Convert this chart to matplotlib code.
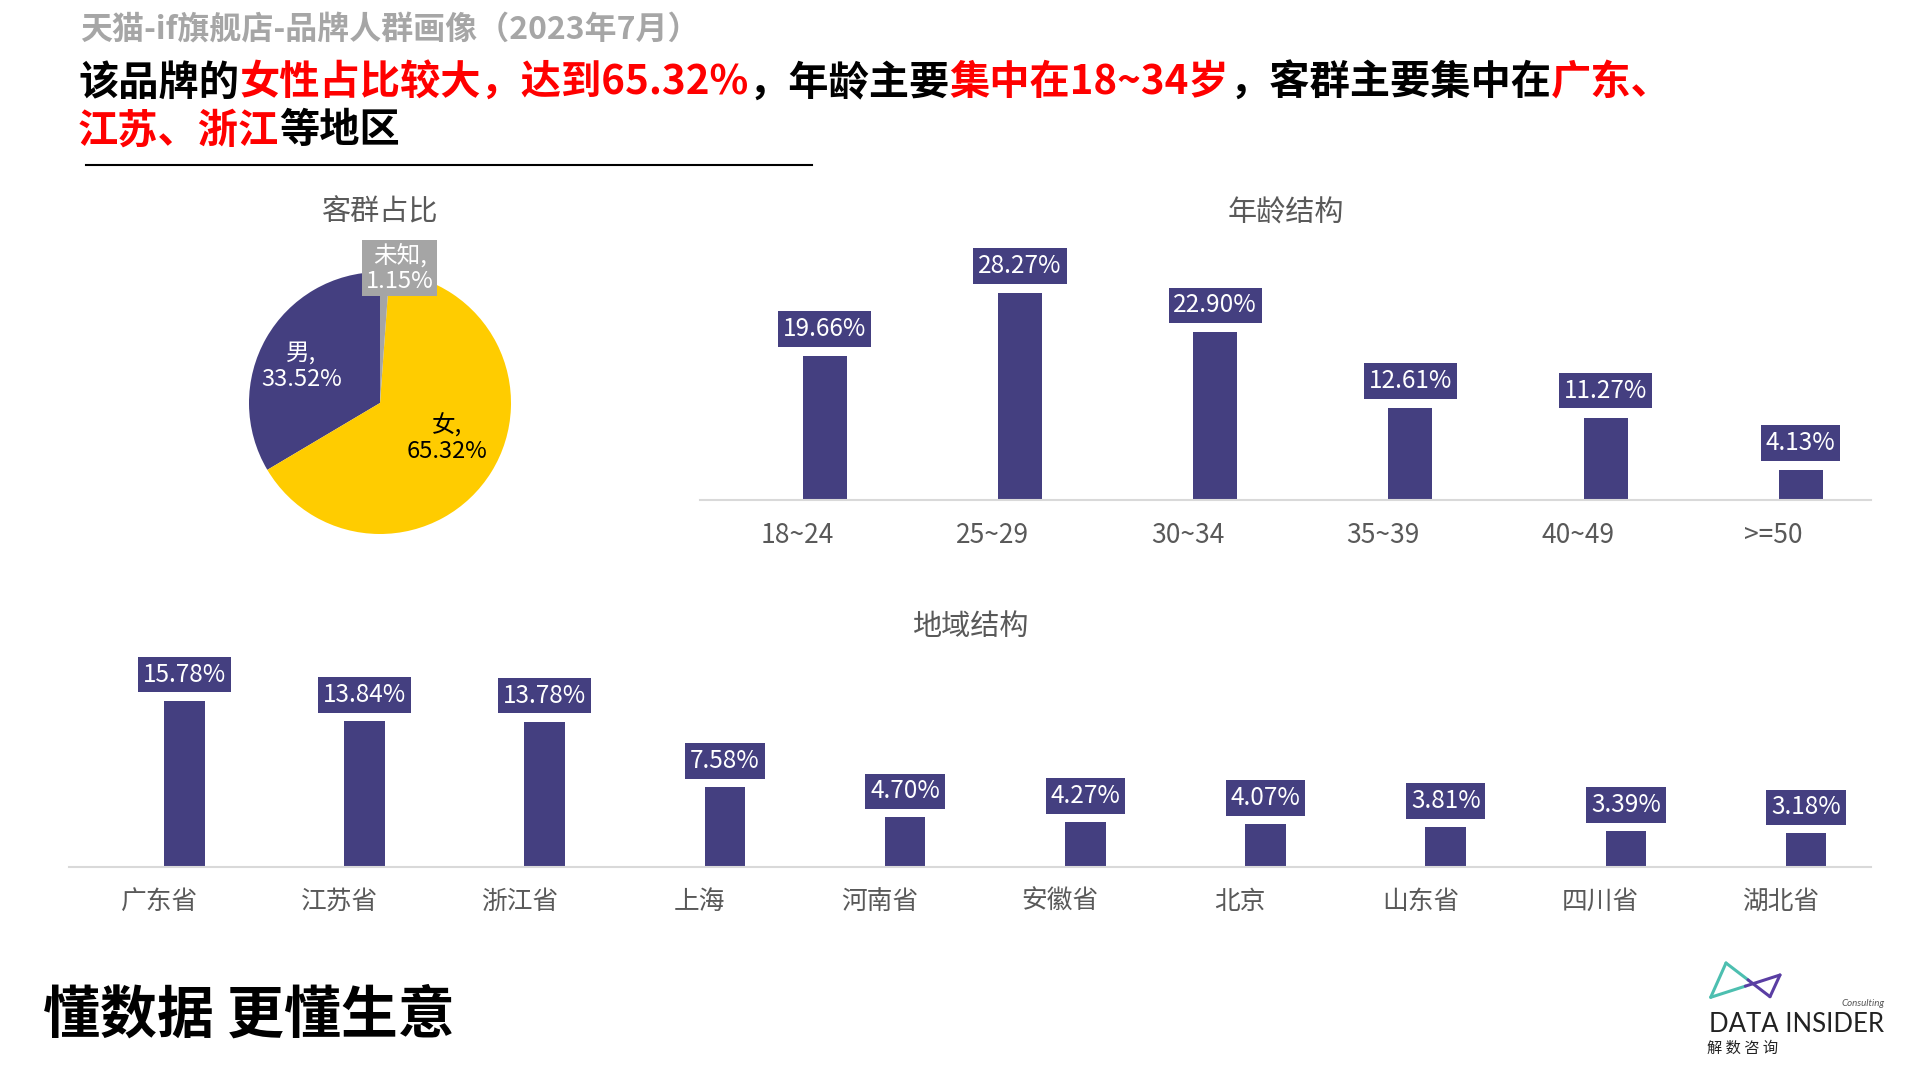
import matplotlib
matplotlib.use("Agg")
import matplotlib.pyplot as plt
from matplotlib.transforms import IdentityTransform

plt.rcParams['font.family'] = ['Noto Sans CJK SC', 'DejaVu Sans']

# ---------------- data ----------------
header_text = "天猫-if旗舰店-品牌人群画像（2023年7月）"
headline_line1 = [("该品牌的", "black"), ("女性占比较大，达到65.32%", "red"), ("，年龄主要", "black"),
                  ("集中在18~34岁", "red"), ("，客群主要集中在", "black"), ("广东、", "red")]
headline_line2 = [("江苏、浙江", "red"), ("等地区", "black")]

gender_labels = ["男", "女", "未知"]
gender_values = [33.52, 65.32, 1.15]

age_labels = ["18~24", "25~29", "30~34", "35~39", "40~49", ">=50"]
age_values = [19.66, 28.27, 22.90, 12.61, 11.27, 4.13]

region_labels = ["广东省", "江苏省", "浙江省", "上海", "河南省", "安徽省", "北京", "山东省", "四川省", "湖北省"]
region_values = [15.78, 13.84, 13.78, 7.58, 4.70, 4.27, 4.07, 3.81, 3.39, 3.18]

slogan = "懂数据 更懂生意"

# ---------------- style ----------------
W, H = 1920, 1080
BAR = "#443F80"
YELLOW = "#FFCC00"
GRAY_SLICE = "#A5A5A5"
TXT_GRAY = "#595959"
AXIS_GRAY = "#D9D9D9"

fig = plt.figure(figsize=(W / 100, H / 100), dpi=100)
fig.patch.set_facecolor("white")


def ax_px(left, top, right, bottom):
    return fig.add_axes([left / W, 1 - bottom / H, (right - left) / W, (bottom - top) / H])


# overlay axes in pixel coords (y down)
ov = fig.add_axes([0, 0, 1, 1], zorder=-1)
ov.set_xlim(0, W)
ov.set_ylim(H, 0)
ov.axis("off")

renderer = fig.canvas.get_renderer()


def rich(x, y, parts, size, weight="bold"):
    cx = x
    for s, c in parts:
        t = fig.text(cx, H - y, s, color=c, fontsize=size, fontweight=weight,
                     transform=IdentityTransform(), ha="left", va="center")
        bb = t.get_window_extent(renderer)
        cx += bb.width
    return cx


# header
fig.text(80 / W, 1 - 31 / H, header_text, color="#A6A6A6", fontsize=23, fontweight="bold",
         ha="left", va="center")
rich(78, 83, headline_line1, 29)
rich(78, 131, headline_line2, 29)
ov.plot([86, 812], [165, 165], color="black", lw=1.5)

# ---------------- pie ----------------
cx, cy, r = 380, 403, 131
pax = ax_px(cx - r, cy - r, cx + r, cy + r)
pax.pie(gender_values, colors=[BAR, YELLOW, GRAY_SLICE], startangle=90, counterclock=True,
        radius=1, wedgeprops=dict(linewidth=0))
pax.set_xlim(-1, 1)
pax.set_ylim(-1, 1)
pax.set_aspect("equal")
pax.axis("off")
pax.text(-0.60, 0.28, f"{gender_labels[0]},\n{gender_values[0]:.2f}%", color="white", fontsize=17,
         ha="center", va="center", linespacing=1.15)
pax.text(0.51, -0.27, f"{gender_labels[1]},\n{gender_values[1]:.2f}%", color="black", fontsize=17,
         ha="center", va="center", linespacing=1.15)
pax.text(0.15, 1.03, f"{gender_labels[2]},\n{gender_values[2]:.2f}%", color="white", fontsize=17,
         ha="center", va="center", linespacing=1.1, clip_on=False,
         bbox=dict(boxstyle="square,pad=0.15", fc=GRAY_SLICE, ec="none"))
fig.text(380 / W, 1 - 212 / H, "客群占比", color=TXT_GRAY, fontsize=21, ha="center", va="center")


# ---------------- bar charts ----------------
def bar_chart(ax, labels, values, ymax, label_off, tick_size):
    xs = list(range(len(labels)))
    ax.bar([x + 0.14 for x in xs], values, width=0.225, color=BAR, zorder=2)
    ax.set_xlim(-0.5, len(labels) - 0.5)
    ax.set_ylim(0, ymax)
    ax.set_xticks(xs)
    ax.set_xticklabels(labels, fontsize=tick_size, color=TXT_GRAY)
    ax.tick_params(axis="x", length=0, pad=16)
    ax.set_yticks([])
    for s in ["top", "right", "left"]:
        ax.spines[s].set_visible(False)
    ax.spines["bottom"].set_color(AXIS_GRAY)
    ax.spines["bottom"].set_linewidth(1.5)
    ax.patch.set_alpha(0)
    for x, v in zip(xs, values):
        ax.annotate(f"{v:.2f}%", xy=(x + 0.14, v), xytext=(0, label_off), textcoords="offset pixels",
                    ha="center", va="center", color="white", fontsize=17.5, annotation_clip=False,
                    bbox=dict(boxstyle="square,pad=0.2", fc=BAR, ec="none"))


aax = ax_px(700, 500 - 7.32 * 35, 1871, 500)
bar_chart(aax, age_labels, age_values, 35, 27, 19)
fig.text(1286 / W, 1 - 214 / H, "年龄结构", color=TXT_GRAY, fontsize=21, ha="center", va="center")

rax = ax_px(69, 867 - 10.55 * 20, 1871, 867)
bar_chart(rax, region_labels, region_values, 20, 26, 18.5)
fig.text(970 / W, 1 - 627 / H, "地域结构", color=TXT_GRAY, fontsize=21, ha="center", va="center")

# ---------------- slogan ----------------
fig.text(43 / W, 1 - 1016 / H, slogan, color="black", fontsize=41, fontweight="bold",
         ha="left", va="center")

# ---------------- logo ----------------
A, B, C, D = (1726, 963), (1710.7, 997.3), (1770, 996.7), (1780, 975)
TEAL, PURP = "#4DBFB0", "#5A3EA3"
mid1 = ((A[0] + C[0]) / 2, (A[1] + C[1]) / 2)
mid2 = ((B[0] + D[0]) / 2, (B[1] + D[1]) / 2)
ov.plot([A[0], B[0]], [A[1], B[1]], color=TEAL, lw=2.2, solid_capstyle="round")
ov.plot([A[0], mid1[0]], [A[1], mid1[1]], color=TEAL, lw=2.2, solid_capstyle="round")
ov.plot([mid1[0], C[0]], [mid1[1], C[1]], color=PURP, lw=2.2, solid_capstyle="round")
ov.plot([B[0], mid2[0]], [B[1], mid2[1]], color=TEAL, lw=2.2, solid_capstyle="round")
ov.plot([mid2[0], D[0]], [mid2[1], D[1]], color=PURP, lw=2.2, solid_capstyle="round")
ov.plot([D[0], C[0]], [D[1], C[1]], color=PURP, lw=2.2, solid_capstyle="round")
ov.text(1709, 1025, "DATA INSIDER", fontsize=18.5, color="#222222", family=["Lato", "DejaVu Sans"],
        ha="left", va="center")
ov.text(1885, 1003, "Consulting", fontsize=7, color="#555555", family=["Lato", "DejaVu Sans"],
        ha="right", va="center", style="italic")
ov.text(1707, 1048, "解 数 咨 询", fontsize=11, color="#222222", ha="left", va="center")

fig.savefig("out.png", dpi=100, facecolor="white")
